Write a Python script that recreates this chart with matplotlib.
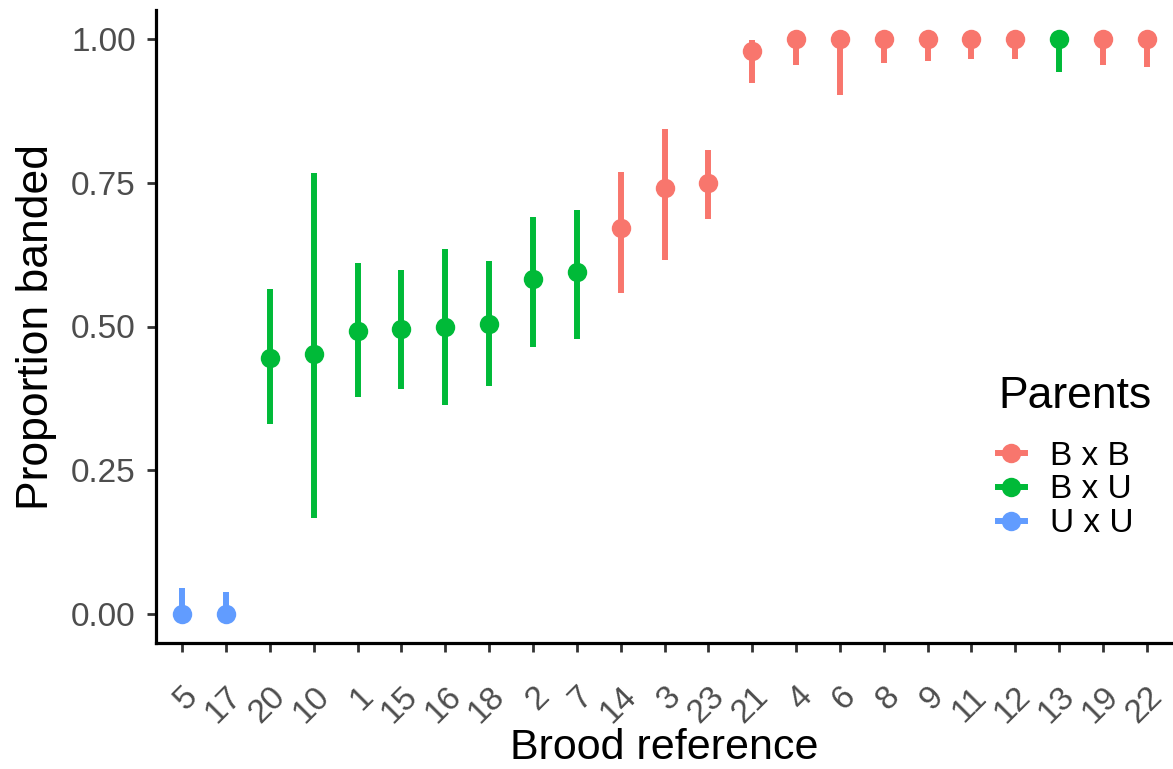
import matplotlib
matplotlib.use("Agg")
import matplotlib.pyplot as plt
from matplotlib.lines import Line2D

plt.rcParams['font.family'] = ['Liberation Sans', 'DejaVu Sans']

broods = ['5', '17', '20', '10', '1', '15', '16', '18', '2', '7', '14', '3', '23',
          '21', '4', '6', '8', '9', '11', '12', '13', '19', '22']
parents = ['U x U', 'U x U', 'B x U', 'B x U', 'B x U', 'B x U', 'B x U', 'B x U',
           'B x U', 'B x U', 'B x B', 'B x B', 'B x B', 'B x B', 'B x B', 'B x B',
           'B x B', 'B x B', 'B x B', 'B x B', 'B x U', 'B x B', 'B x B']
prop = [0.0, 0.0, 0.446, 0.453, 0.493, 0.495, 0.50, 0.505, 0.582, 0.594,
        0.672, 0.741, 0.75, 0.979, 1.0, 1.0, 1.0, 1.0, 1.0, 1.0, 1.0, 1.0, 1.0]
lower = [0.0, 0.0, 0.33, 0.168, 0.377, 0.391, 0.363, 0.396, 0.465, 0.479,
         0.559, 0.616, 0.686, 0.924, 0.955, 0.903, 0.958, 0.962, 0.964, 0.964,
         0.943, 0.955, 0.951]
upper = [0.045, 0.038, 0.566, 0.766, 0.611, 0.599, 0.635, 0.613, 0.691, 0.703,
         0.769, 0.844, 0.807, 0.997, 1.0, 1.0, 1.0, 1.0, 1.0, 1.0, 1.0, 1.0, 1.0]

colors = {'B x B': '#F8766D', 'B x U': '#00BA38', 'U x U': '#619CFF'}
legend_order = ['B x B', 'B x U', 'U x U']
yticks = [0.0, 0.25, 0.5, 0.75, 1.0]
ytick_labels = ['0.00', '0.25', '0.50', '0.75', '1.00']

fig = plt.figure(figsize=(11.73, 7.69), dpi=100)
ax = fig.add_axes([156 / 1173, 126 / 769, 1 - 156 / 1173, (643 - 10) / 769])

for i, (b, p, v, lo, hi) in enumerate(zip(broods, parents, prop, lower, upper)):
    c = colors[p]
    ax.vlines(i, lo, hi, color=c, linewidth=4.3, zorder=2)
    ax.plot(i, v, 'o', color=c, markersize=14, markeredgewidth=0, zorder=3)

ax.set_xlim(-0.6, len(broods) - 0.4)
ax.set_ylim(-0.05, 1.05)
ax.set_xticks(range(len(broods)))
ax.set_xticklabels(broods, rotation=45, ha='right', va='top', rotation_mode='anchor')
ax.set_yticks(yticks)
ax.set_yticklabels(ytick_labels)

for s in ['top', 'right']:
    ax.spines[s].set_visible(False)
for s in ['left', 'bottom']:
    ax.spines[s].set_linewidth(2.3)
    ax.spines[s].set_color('black')

ax.tick_params(axis='both', length=6.5, width=2, color='#333333',
               labelcolor='#4D4D4D', labelsize=24, pad=8)
ax.tick_params(axis='x', pad=21)

fig.text((156 + 1173) / 2 / 1173, 1 - 759 / 769, 'Brood reference', fontsize=31,
         color='black', ha='center', va='baseline')
ax.set_ylabel('Proportion banded', fontsize=32, color='black', labelpad=10)

handles = [Line2D([0], [0], color=colors[k], marker='o', markersize=14,
                  markeredgewidth=0, linewidth=4.3) for k in legend_order]
leg = ax.legend(handles, legend_order,
                loc='center left', bbox_to_anchor=(998 / 1173, (769 - 490) / 769),
                bbox_transform=fig.transFigure, frameon=False,
                fontsize=24, handlelength=0.8,
                handletextpad=0.75, labelspacing=0.08, borderaxespad=0, borderpad=0)
fig.text(998 / 1173, (769 - 396) / 769, 'Parents', fontsize=32, color='black',
         ha='left', va='center')

fig.savefig('out.png', dpi=100)
